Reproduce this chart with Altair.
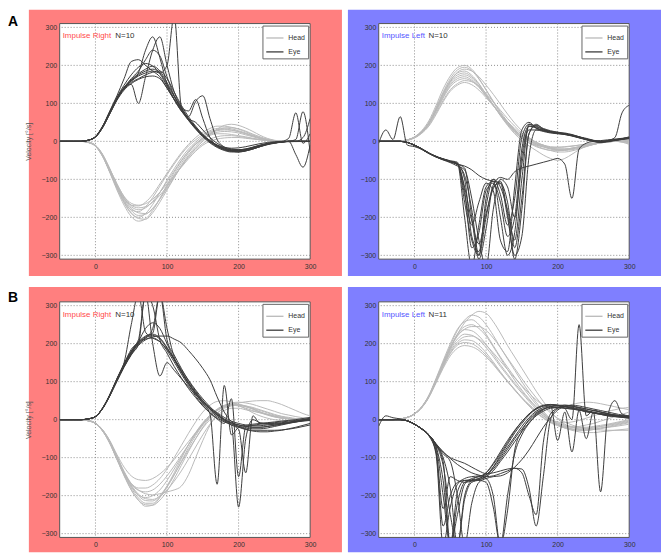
import altair as alt
import pandas as pd

FONT = "Liberation Sans"
T = list(range(-50, 301, 10))

# Panel A, Impulse Right (N=10)
AR_HEAD = [
    [0,0,0,0,-3,-13, -40,-82,-128,-168,-198,-210,-204,-182,-150,-115, -82,-52,-26,-6,8,16,20,20,18,15, 12,8,5,2,0,0,-1,0,1,0],
    [0,0,0,0,-3,-12, -38,-80,-124,-162,-190,-200,-190,-166,-135,-102, -72,-44,-20,-2,14,25,30,32,30,26, 20,14,8,4,1,0,0,1,0,0],
    [0,0,0,0,-2,-11, -36,-76,-118,-155,-182,-195,-192,-176,-152,-124, -95,-66,-40,-18,0,18,32,42,45,42, 35,26,16,8,3,0,-2,0,2,0],
    [0,0,0,0,-3,-13, -40,-80,-122,-158,-180,-185,-172,-148,-118,-88, -60,-34,-12,4,18,28,34,35,33,28, 22,15,9,4,1,0,0,0,0,0],
    [0,0,0,0,-3,-12, -37,-76,-116,-150,-172,-180,-175,-158,-134,-106, -78,-50,-26,-8,6,18,24,26,25,22, 17,12,7,3,1,0,0,-1,0,0],
    [0,0,0,0,-2,-11, -35,-72,-112,-146,-168,-175,-172,-160,-142,-118, -92,-66,-42,-22,-6,6,12,15,15,13, 10,7,4,2,0,0,0,0,0,0],
    [0,0,0,0,-3,-12, -38,-78,-118,-150,-168,-170,-160,-140,-112,-84, -56,-30,-8,10,24,34,40,40,37,32, 25,17,10,5,2,0,0,0,0,0],
    [0,0,0,0,-2,-10, -34,-72,-112,-145,-163,-168,-164,-152,-134,-112, -90,-68,-46,-26,-10,0,6,9,10,10, 8,6,4,2,1,0,0,0,0,0],
    [0,0,0,0,-2,-11, -36,-75,-116,-152,-176,-188,-190,-178,-152,-120, -88,-58,-30,-8,10,22,28,30,29,25, 20,14,8,4,1,0,1,0,-1,0],
    [0,0,0,0,-3,-12, -38,-79,-122,-160,-188,-203,-205,-188,-160,-128, -96,-64,-36,-14,4,20,30,35,36,33, 27,19,12,6,2,0,0,0,0,0],
]
AR_EYE = [
    [0,0,0,0,3,12, 38,75,112,140,160,175,185,190,180,150, 118,88,60,38,18,2,-10,-18,-22,-22, -20,-15,-10,-6,-3,-1,0,0,0,0],
    [0,0,0,0,3,13, 40,78,115,142,160,180,240,275,220,150, 110,80,55,32,12,-4,-16,-24,-28,-28, -25,-20,-14,-9,-5,-2,0,0,0,0],
    [0,0,0,0,3,12, 37,74,110,140,150,100,170,240,275,200, 130,90,60,35,15,0,-12,-20,-25,-25, -22,-17,-12,-7,-4,-2,0,0,0,0],
    [0,0,0,0,3,12, 40,80,120,165,210,215,200,185,170,140, 110,80,65,105,120,60,5,-15,-25,-28, -25,-20,-14,-8,-4,-2,0,0,0,0],
    [0,0,0,0,3,12, 38,76,112,140,158,172,180,185,180,200, 330,90,60,50,30,10,-5,-15,-20,-22, -20,-16,-10,-6,-3,-1,0,0,0,0],
    [0,0,0,0,3,12, 38,75,113,142,162,178,190,198,185,155, 120,90,80,110,60,10,-12,-22,-26,-26, -24,-18,-12,-7,-4,-2,0,0,0,0],
    [0,0,0,0,3,11, 36,72,108,135,152,163,170,172,165,140, 110,82,56,34,15,0,-10,-16,-18,-17, -14,-10,-6,-3,-1,0,8,75,-5,20],
    [0,0,0,0,3,12, 39,77,116,148,175,195,205,198,178,145, 112,84,58,36,16,0,-12,-20,-24,-24, -21,-16,-11,-6,-3,-1,0,-35,-68,-10],
    [0,0,0,0,3,12, 38,75,112,142,165,185,215,240,225,170, 120,85,58,35,15,-2,-14,-22,-26,-27, -25,-20,-14,-8,-4,-2,0,5,78,-30],
    [0,0,0,0,3,11, 36,72,110,138,155,165,175,182,185,165, 130,95,65,40,18,2,-10,-18,-22,-24, -22,-18,-12,-7,-4,-2,0,0,10,60],
]

# Panel A, Impulse Left (N=10)
AL_HEAD = [
    [0,0,0,1,4,12, 28,54,94,138,172,194,200,190,166,135, 104,74,46,24,8,-4,-10,-14,-16,-16, -15,-13,-10,-7,-4,-2,0,2,3,4],
    [0,0,0,1,4,11, 26,50,88,130,165,188,195,186,164,136, 106,78,52,30,14,2,-6,-10,-14,-15, -14,-12,-10,-8,-5,-3,-1,0,1,2],
    [0,0,0,1,3,10, 24,47,83,124,158,182,190,185,170,148, 124,98,72,48,28,10,-2,-10,-18,-22, -22,-20,-16,-12,-8,-4,-2,0,0,0],
    [0,0,0,1,4,11, 25,48,85,126,160,180,185,174,152,124, 96,68,44,24,8,-4,-14,-20,-24,-25, -22,-18,-14,-10,-6,-3,-1,0,0,-2],
    [0,0,0,1,4,11, 25,48,84,124,156,175,180,170,150,124, 96,68,42,20,2,-12,-24,-36,-45,-50, -45,-34,-22,-12,-6,-3,-1,0,0,-3],
    [0,0,0,1,4,11, 25,47,82,120,152,170,175,166,146,120, 95,70,47,26,10,-4,-12,-19,-24,-28, -28,-25,-20,-14,-8,-4,-1,0,0,-4],
    [0,0,0,1,4,10, 24,46,80,117,148,165,170,161,144,120, 96,72,50,30,14,2,-7,-14,-20,-24, -24,-22,-18,-13,-8,-4,-1,1,2,0],
    [0,0,0,1,3,10, 23,45,78,114,144,160,165,158,142,118, 94,70,48,28,12,0,-9,-15,-20,-22, -22,-20,-16,-12,-8,-4,-2,0,-2,-6],
    [0,0,0,1,3,9, 22,42,74,108,136,152,160,157,145,126, 104,82,60,40,22,8,-3,-10,-16,-20, -20,-18,-15,-11,-7,-4,-2,0,0,-5],
    [0,0,0,1,3,9, 21,40,70,104,132,148,155,149,135,115, 94,72,52,34,18,6,-5,-12,-18,-20, -20,-18,-14,-10,-6,-3,-1,0,-2,-8],
]
AL_EYE = [
    [0,0,0,0,-3,-10, -20,-31,-40,-47,-53,-60,-130,-280,-240,-130, -110,-160,-250,-200,-20,40,35,28,24,22, 20,17,12,6,1,-2,0,3,6,10],
    [0,0,0,0,-3,-10, -19,-30,-39,-46,-52,-58,-200,-330,-220,-120, -105,-200,-300,-240,-40,30,30,26,22,20, 18,15,10,5,1,-2,0,3,6,9],
    [0,0,0,0,-3,-11, -21,-32,-41,-48,-54,-62,-90,-180,-300,-200, -120,-110,-160,-280,-150,20,45,32,26,24, 22,18,12,6,2,0,1,4,7,10],
    [0,0,0,0,-3,-10, -20,-31,-41,-49,-56,-65,-75,-150,-260,-330, -180,-100,-120,-200,-60,40,38,30,25,22, 19,15,10,5,0,-3,-1,2,5,8],
    [0,0,0,0,-3,-10, -20,-31,-40,-47,-53,-60,-65,-75,-90,-100, -105,-110,-200,-300,-250,-40,30,30,26,22, 20,16,12,8,3,0,1,4,7,12],
    [0,0,0,0,-3,-10, -20,-31,-40,-47,-53,-60,-70,-200,-310,-230, -115,-95,-100,-80,-70,-65,-60,-55,-50,-45, -60,-150,-20,-5,0,2,4,6,8,10],
    [0,0,0,0,-3,-10, -20,-31,-40,-46,-51,-55,-160,-260,-300,-150, -100,-120,-180,-260,-100,45,35,28,24,21, 18,14,9,4,0,-2,0,3,6,9],
    [0,0,0,0,-3,-10, -20,-31,-40,-47,-53,-58,-140,-220,-160,-110, -130,-260,-290,-120,30,50,35,28,24,22, 20,16,11,6,2,0,1,4,7,10],
    [-5,30,5,65,-10,-14, -21,-32,-41,-48,-54,-60,-120,-210,-270,-190, -125,-105,-190,-310,-180,20,42,34,28,24, 19,15,10,5,1,-1,2,10,75,95],
    [0,0,0,0,-3,-10, -20,-31,-40,-47,-53,-60,-100,-250,-290,-170, -100,-140,-220,-150,10,45,40,32,26,23, 20,16,11,6,2,0,1,3,5,7],
]

# Panel B, Impulse Right (N=10)
BR_HEAD = [
    [0,0,0,0,-3,-10, -30,-62,-105,-148,-185,-212,-228,-225,-205,-175, -140,-102,-66,-34,-8,12,28,38,42,40, 35,28,20,13,8,4,2,1,0,0],
    [0,0,0,0,-3,-10, -29,-60,-102,-145,-180,-206,-220,-220,-204,-178, -146,-110,-74,-42,-14,8,24,34,38,38, 34,28,20,14,9,5,3,1,0,0],
    [0,0,0,0,-3,-9, -28,-58,-100,-140,-175,-200,-213,-214,-200,-175, -145,-112,-80,-50,-22,0,18,30,36,38, 36,32,26,20,14,9,6,3,2,1],
    [0,0,0,0,-3,-10, -30,-62,-104,-144,-176,-198,-205,-200,-185,-160, -130,-98,-66,-36,-10,10,26,36,40,38, 34,28,20,14,8,4,2,0,0,0],
    [0,0,0,0,-2,-9, -27,-56,-96,-136,-168,-185,-195,-198,-195,-190, -185,-175,-145,-100,-55,-15,15,32,40,44, 47,49,50,50,46,40,32,24,16,10],
    [0,0,0,0,-3,-9, -27,-55,-92,-125,-148,-158,-160,-155,-143,-126, -105,-82,-58,-34,-12,8,24,36,44,46, 44,40,34,28,22,16,12,8,5,3],
    [0,0,0,0,-3,-10, -29,-60,-100,-140,-170,-186,-190,-185,-170,-148, -122,-94,-66,-38,-12,10,26,36,40,40, 36,30,24,18,12,8,4,2,0,0],
    [0,0,0,0,-2,-9, -27,-57,-97,-138,-172,-196,-208,-210,-202,-185, -162,-135,-104,-72,-40,-12,10,24,30,30, 26,22,18,14,10,6,3,1,0,0],
    [0,0,0,0,-3,-10, -29,-60,-102,-146,-185,-212,-224,-225,-212,-188, -156,-120,-84,-50,-20,6,24,34,38,36, 30,24,18,12,7,4,2,1,0,0],
    [0,0,0,0,-3,-10, -30,-62,-104,-142,-168,-180,-180,-172,-155,-130, -100,-68,-36,-6,20,38,48,50,46,38, 28,18,10,4,0,-2,-2,0,2,3],
]
BR_EYE = [
    [0,0,0,0,2,8, 30,64,104,140,172,205,240,255,240,200, 160,125,95,70,50,32,18,6,-4,-10, -14,-16,-16,-14,-12,-10,-8,-5,-2,0],
    [0,0,0,0,2,8, 30,65,108,150,250,330,230,215,205,185, 160,132,104,78,55,34,16,2,-8,-14, -18,-20,-20,-18,-15,-12,-8,-4,0,4],
    [0,0,0,0,2,8, 30,64,105,145,180,205,215,240,330,210, 170,135,102,75,50,30,14,0,-10,-18, -22,-24,-24,-22,-18,-14,-10,-6,-2,2],
    [0,0,0,0,2,8, 29,62,100,138,170,195,210,218,220,220, 212,202,182,160,135,105,60,20,-5,-18, -25,-28,-28,-28,-28,-27,-25,-22,-18,-14],
    [0,0,0,0,2,8, 31,66,108,148,185,210,330,200,115,150, 130,108,86,66,46,28,12,0,-8,-14, -18,-20,-20,-18,-15,-12,-9,-6,-3,0],
    [0,0,0,0,2,8, 30,64,105,142,175,198,215,222,212,188, 158,128,98,72,48,28,12,-2,-12,-20, -26,-30,-32,-32,-30,-28,-24,-20,-15,-10],
    [0,0,0,0,2,8, 30,65,106,145,178,202,218,225,215,190, 158,126,95,68,42,15,-170,90,-40,-20, -15,-12,-10,-8,-6,-4,-2,0,3,6],
    [0,0,0,0,2,8, 29,63,104,143,176,200,212,215,205,182, 152,120,90,62,38,18,2,-10,55,-150, -20,-15,-12,-10,-8,-6,-4,-2,0,2],
    [0,0,0,0,2,8, 30,64,104,140,172,198,330,300,210,175, 140,110,82,58,36,18,4,-6,-15,-230, -50,0,-8,-10,-10,-8,-6,-4,-2,0],
    [0,0,0,0,2,8, 30,64,106,146,180,205,220,228,330,240, 165,128,96,68,44,24,8,-4,-14,-25, -140,10,-10,-12,-12,-10,-8,-6,-4,-2],
]

# Panel B, Impulse Left (N=11)
BL_HEAD = [
    [0,0,0,2,6,15, 32,60,100,145,188,225,255,275,285,280, 258,228,195,165,135,105,75,48,22,2, -12,-20,-24,-25,-24,-22,-20,-18,-15,-12],
    [0,0,0,2,6,15, 33,62,104,150,195,235,262,275,270,250, 222,190,160,130,100,72,46,22,2,-12, -20,-24,-26,-25,-22,-18,-14,-10,-6,-2],
    [0,0,0,2,6,16, 34,64,108,155,200,238,258,263,250,225, 195,165,138,112,88,64,40,18,0,-12, -20,-25,-28,-28,-26,-22,-18,-14,-10,-6],
    [0,0,0,2,6,15, 32,60,102,148,190,225,245,250,240,220, 192,162,132,104,78,55,34,16,2,-8, -14,-18,-20,-20,-18,-15,-12,-8,-4,0],
    [0,0,0,2,6,16, 34,63,106,150,190,222,237,234,220,198, 172,145,120,96,74,52,32,14,0,-10, -16,-20,-22,-22,-20,-18,-15,-12,-8,-4],
    [0,0,0,2,6,15, 33,62,104,146,184,212,225,222,210,190, 166,140,116,92,70,48,28,10,-4,-14, -22,-28,-32,-34,-34,-32,-30,-28,-26,-24],
    [0,0,0,2,6,15, 32,60,100,140,176,200,210,208,196,176, 152,126,102,80,58,38,20,6,-6,-14, -18,-20,-18,-14,-10,-4,2,8,14,20],
    [0,0,0,2,6,15, 32,60,100,140,174,196,203,200,188,170, 148,124,100,78,56,36,18,4,-8,-16, -22,-26,-28,-28,-26,-24,-20,-16,-12,-8],
    [0,0,0,2,6,15, 31,58,96,135,168,188,195,192,182,165, 145,122,100,78,58,40,24,10,0,-6, -8,-6,-2,4,10,16,22,26,30,32],
    [0,0,0,2,6,15, 32,60,100,142,180,205,218,220,212,196, 176,154,132,110,90,70,52,38,30,30, 34,40,44,46,45,42,38,34,30,26],
    [0,0,0,2,6,15, 33,62,104,148,188,220,238,245,245,235, 215,190,162,135,108,82,58,36,18,4, -6,-14,-20,-24,-26,-27,-28,-28,-28,-28],
]
BL_EYE = [
    [0,0,0,0,-3,-12, -25,-42,-90,-330,-230,-170,-155,-150,-148,-145, -130,-105,-78,-50,-25,-2,15,28,35,38, 38,36,32,28,24,20,16,12,10,8],
    [0,0,0,0,-3,-12, -24,-40,-80,-234,-150,-160,-165,-162,-158,-150, -135,-110,-85,-58,-32,-8,12,26,34,36, 35,32,28,24,20,16,12,10,8,6],
    [0,0,0,0,-3,-12, -24,-40,-66,-110,-330,-250,-170,-155,-150,-140, -118,-90,-60,-30,-5,15,30,38,40,38, 34,30,26,22,18,14,10,8,6,4],
    [0,0,0,0,-3,-12, -24,-41,-66,-100,-180,-330,-200,-160,-150,-155, -200,-330,-200,-90,-40,-10,10,22,30,32, 30,28,25,22,18,15,12,10,8,6],
    [-17,10,5,2,-3,-12, -24,-40,-64,-85,-100,-108,-115,-125,-135,-142, -140,-135,-130,-128,-130,-180,-280,-150,0,30, 38,36,30,24,18,14,10,8,6,4],
    [0,0,0,0,-3,-12, -24,-40,-65,-90,-110,-200,-330,-220,-165,-155, -150,-148,-140,-125,-105,-80,-50,-20,5,25, 35,38,36,32,28,24,20,16,12,10],
    [0,0,0,0,-3,-12, -24,-40,-70,-160,-330,-220,-165,-160,-158,-150, -125,-95,-65,-35,-10,12,28,36,40,38, 30,0,250,10,25,20,15,12,10,8],
    [0,0,0,0,-3,-12, -25,-42,-85,-280,-200,-165,-160,-160,-155,-145, -125,-100,-72,-45,-18,5,22,32,36,36, 34,30,25,-50,20,-190,10,50,15,10],
    [0,0,0,0,-3,-12, -24,-40,-66,-120,-250,-330,-210,-165,-160,-165, -230,-330,-240,-80,-30,0,18,28,32,32, 30,28,25,22,18,15,12,10,8,6],
    [0,0,0,0,-3,-12, -24,-40,-63,-85,-102,-118,-130,-140,-146,-150, -148,-142,-135,-128,-140,-200,-250,-60,15,30, 34,34,32,28,24,20,16,12,9,7],
    [0,0,0,0,-3,-12, -24,-40,-72,-200,-330,-190,-160,-158,-155,-140, -115,-85,-55,-28,-5,15,28,36,38,-55, 20,-85,25,20,18,16,14,12,10,8],
]

X_TICKS = [0, 100, 200, 300]
Y_TICKS = [-300, -200, -100, 0, 100, 200, 300]
GRID_X = [0, 100, 200]
GRID_Y = [-300, -200, -100, 0, 100, 200, 300]
KINDS = ["Head", "Eye"]
KIND_COLORS = ["#b9b9b9", "#3c3c3c"]

W, H = 252, 237
XS = alt.Scale(domain=[-50, 300], nice=False, zero=False)
YS = alt.Scale(domain=[-310, 310], nice=False, zero=False)
CS = alt.Scale(domain=KINDS, range=KIND_COLORS)

XAX = alt.Axis(values=X_TICKS, grid=False, domain=False, ticks=False, labelFontSize=7,
               labelColor="#333", labelFont=FONT, labelPadding=3, labelFlush=False,
               title=None, zindex=1)


def yaxis(title):
    kw = dict(values=Y_TICKS, grid=False, domain=False, ticks=False, labelFontSize=7,
              labelColor="#333", labelFont=FONT, labelPadding=3, labelFlush=False, zindex=1)
    if title:
        kw.update(title=title, titleFontSize=7, titleFont=FONT, titleFontWeight="normal",
                  titleColor="#555", titlePadding=10)
    else:
        kw.update(title=None)
    return alt.Axis(**kw)


LEG = alt.Legend(title=None, orient="top-right", offset=2, padding=3, fillColor="white",
                 strokeColor="#666", labelFontSize=7, labelFont=FONT, labelColor="#333",
                 symbolType="stroke", symbolSize=300, symbolStrokeWidth=1.3, rowPadding=1,
                 labelOffset=4, zindex=2)


def frame(traces, kind):
    rows = []
    for i, vals in enumerate(traces):
        for t, v in zip(T, vals):
            rows.append({"t": t, "v": v, "trace": f"{kind}{i}", "kind": kind})
    return pd.DataFrame(rows)


def panel(head, eye, bg, title, tcolor, ntext, nx, letter, ytitle, top, bottom):
    one = pd.DataFrame({"k": [0]})
    yax = yaxis(ytitle)
    layers = [
        alt.Chart(one).mark_rect(fill=bg).encode(
            x=alt.value(-31), x2=alt.value(W + 32), y=alt.value(-top), y2=alt.value(H + bottom)),
        alt.Chart(one).mark_rect(fill="white", stroke="#555", strokeWidth=1).encode(
            x=alt.value(0), x2=alt.value(W), y=alt.value(0), y2=alt.value(H)),
        alt.Chart(pd.DataFrame({"g": GRID_X})).mark_rule(
            color="#8c8c8c", strokeDash=[1, 2], strokeWidth=1).encode(
            x=alt.X("g:Q", scale=XS, axis=XAX)),
        alt.Chart(pd.DataFrame({"g": GRID_Y})).mark_rule(
            color="#8c8c8c", strokeDash=[1, 2], strokeWidth=1).encode(
            y=alt.Y("g:Q", scale=YS, axis=yax)),
    ]
    for df in (frame(head, "Head"), frame(eye, "Eye")):
        layers.append(
            alt.Chart(df).mark_line(clip=True, strokeWidth=1, interpolate="monotone").encode(
                x=alt.X("t:Q", scale=XS, axis=XAX),
                y=alt.Y("v:Q", scale=YS, axis=yax),
                detail="trace:N",
                color=alt.Color("kind:N", scale=CS, legend=LEG),
            ))
    layers.append(alt.Chart(one).mark_text(text=title, color=tcolor, fontSize=8, font=FONT,
                                           align="left", baseline="middle").encode(
        x=alt.value(3), y=alt.value(13)))
    layers.append(alt.Chart(one).mark_text(text=ntext, color="#333", fontSize=8, font=FONT,
                                           align="left", baseline="middle").encode(
        x=alt.value(nx), y=alt.value(13)))
    if letter:
        layers.append(alt.Chart(one).mark_text(text=letter, color="black", fontSize=14,
                                               fontWeight="bold", font=FONT, align="left",
                                               baseline="top").encode(
            x=alt.value(-52), y=alt.value(-9 if letter == "A" else -11)))
    return alt.layer(*layers).properties(width=W, height=H)


RED, BLUE = "#ff7f7f", "#7f7fff"
p1 = panel(AR_HEAD, AR_EYE, RED, "Impulse Right", "#ff4a4a", "N=10", 56, "A", "Velocity [°/s]", 14, 17)
p2 = panel(AL_HEAD, AL_EYE, BLUE, "Impulse Left", "#5555ff", "N=10", 50, None, None, 14, 17)
p3 = panel(BR_HEAD, BR_EYE, RED, "Impulse Right", "#ff4a4a", "N=10", 56, "B", "Velocity [°/s]", 15, 15)
p4 = panel(BL_HEAD, BL_EYE, BLUE, "Impulse Left", "#5555ff", "N=11", 50, None, None, 15, 15)

chart = alt.concat(p1, p2, p3, p4, columns=2, spacing={"row": 43, "column": 69},
                   bounds="flush").resolve_scale(color="independent").resolve_legend(
    color="independent").properties(padding=0, background="white").configure_view(stroke=None)

chart.save("out.html", embed_options={"renderer": "svg", "actions": False})
